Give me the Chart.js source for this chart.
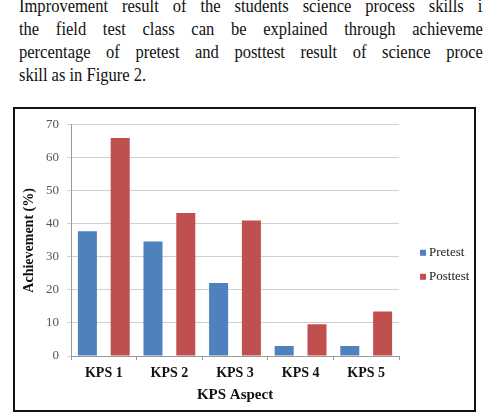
<!DOCTYPE html>
<html>
<head>
<meta charset="utf-8">
<script src="https://cdn.jsdelivr.net/npm/chart.js@4"></script>
<style>
  body { margin: 0; width: 483px; height: 418px; overflow: hidden; background: #fff; position: relative; }
  .para { position: absolute; left: 19px; top: -6px; width: 548px; font-family: "Liberation Serif", serif; font-size: 19px; line-height: 23px; color: #111; transform: scaleX(0.87); transform-origin: 0 0; }
  .para div { text-align: justify; text-align-last: justify; }
  .para div.last { text-align-last: left; }
  .box { position: absolute; left: 13px; top: 107px; width: 459px; height: 301px; border: 2px solid #111; }
  canvas { display: block; }
</style>
</head>
<body>
<div class="para">
  <div style="width:542px">Improvement result of the students science process skills in</div>
  <div>the field test class can be explained through achievement</div>
  <div>percentage of pretest and posttest result of science process</div>
  <div class="last">skill as in Figure 2.</div>
</div>
<div class="box"><canvas id="chart" width="459" height="301"></canvas></div>
<script>
// chart data
const categories = ['KPS 1', 'KPS 2', 'KPS 3', 'KPS 4', 'KPS 5'];
const pretest = [37.8, 34.7, 22.1, 3, 3];
const posttest = [66, 43.3, 41, 9.6, 13.5];
const yTicks = [0, 10, 20, 30, 40, 50, 60, 70];

const serif = '"Liberation Serif", "Times New Roman", serif';

// small legend on the right, Excel style
const sideLegend = {
    id: 'sideLegend',
    afterDraw(chart) {
        const ctx = chart.ctx;
        const area = chart.chartArea;
        ctx.save();
        ctx.font = '13px ' + serif;
        ctx.textBaseline = 'middle';
        chart.data.datasets.forEach((ds, i) => {
            const x = area.right + 21;
            const y = area.top + 128 + i * 24;
            ctx.fillStyle = ds.backgroundColor;
            ctx.fillRect(x, y - 3, 6, 6);
            ctx.fillStyle = '#222';
            ctx.fillText(ds.label, x + 9, y);
        });
        ctx.restore();
    }
};

const data = {
    labels: categories,
    datasets: [
        { label: 'Pretest', data: pretest, backgroundColor: '#4f81bd' },
        { label: 'Posttest', data: posttest, backgroundColor: '#c0504d' }
    ]
};

const config = {
    type: 'bar',
    data,
    options: {
        responsive: false,
        animation: false,
        datasets: { bar: { categoryPercentage: 1, barPercentage: 0.58 } },
        layout: { padding: { top: 15, right: 75, left: 0, bottom: 0 } },
        plugins: {
            tooltip: { enabled: false },
            legend: { display: false }
        },
        scales: {
            x: {
                afterFit: (axis) => { axis.height = 54; },
                grid: { display: true, offset: true, drawOnChartArea: false, tickLength: 4, color: '#999' },
                border: { color: '#999' },
                ticks: { color: '#111', font: { family: serif, size: 14, weight: 'bold' }, padding: 5 },
                title: { display: true, text: 'KPS Aspect', color: '#111', font: { family: serif, size: 15, weight: 'bold' }, padding: { top: 0, bottom: 6 } }
            },
            y: {
                min: 0, max: 70,
                afterFit: (axis) => { axis.width = 56; },
                afterBuildTicks: (axis) => { axis.ticks = yTicks.map(v => ({ value: v })); },
                grid: { color: '#d0d0d0', tickLength: 4 },
                border: { color: '#999' },
                ticks: { color: '#555', font: { family: serif, size: 13 }, padding: 8 },
                title: { display: true, text: 'Achievement (%)', color: '#111', font: { family: serif, size: 14, weight: 'bold' }, padding: 6 }
            }
        }
    },
    plugins: [sideLegend]
};

const chart = new Chart(document.getElementById('chart'), config);
</script>
</body>
</html>
